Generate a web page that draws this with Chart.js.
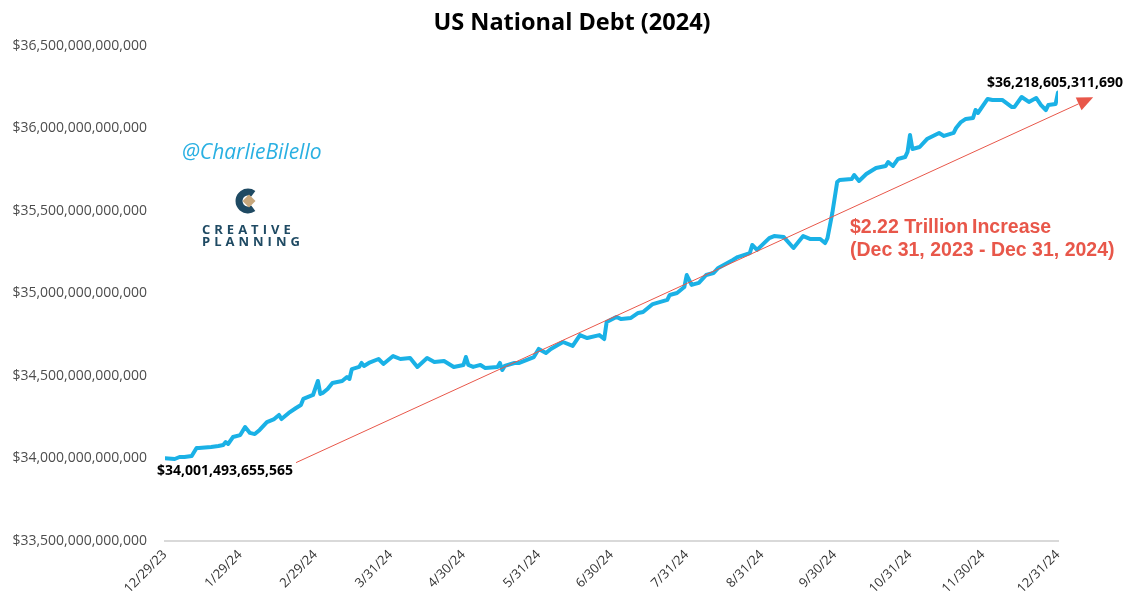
<!DOCTYPE html>
<html>
<head>
<meta charset="utf-8">
<script src="https://cdn.jsdelivr.net/npm/chart.js@4.4.1/dist/chart.umd.min.js"></script>
<style>
  html, body { margin: 0; padding: 0; background: #ffffff; }
  #wrap { width: 1132px; height: 606px; position: relative; }
</style>
</head>
<body>
<div id="wrap"><canvas id="c"></canvas></div>
<script>
// ---- Data ----
// day offset from 12/29/2023
const days = [0,4,6,8,11,13,14,19,22,24,25,26,28,31,33,35,37,39,42,45,47,48,51,54,56,57,60,61,63,64,65,67,69,73,75,76,77,80,81,82,84,88,90,94,97,101,104,108,111,115,119,123,124,125,127,130,132,137,138,139,140,144,146,152,154,157,159,164,168,171,174,179,181,182,186,188,192,195,197,200,201,207,208,211,214,215,217,220,223,226,228,234,236,241,242,244,249,251,255,259,263,266,270,272,273,275,277,278,283,284,286,289,293,297,298,300,302,305,306,307,308,311,314,319,321,325,326,328,330,333,334,335,339,341,345,349,350,353,356,359,361,363,364,367,368];
// total public debt, trillions of USD
const debt = [34.001,33.997,34.009,34.009,34.015,34.064,34.064,34.070,34.076,34.082,34.100,34.088,34.130,34.142,34.191,34.155,34.148,34.173,34.221,34.239,34.264,34.239,34.276,34.306,34.324,34.361,34.379,34.385,34.470,34.391,34.397,34.421,34.458,34.470,34.494,34.482,34.542,34.555,34.579,34.561,34.579,34.603,34.573,34.621,34.603,34.609,34.555,34.609,34.585,34.591,34.555,34.567,34.615,34.567,34.555,34.567,34.548,34.555,34.579,34.536,34.561,34.579,34.579,34.615,34.664,34.639,34.664,34.706,34.682,34.748,34.730,34.748,34.724,34.827,34.858,34.845,34.852,34.882,34.888,34.924,34.936,34.961,34.991,35.003,35.039,35.112,35.052,35.064,35.112,35.124,35.155,35.203,35.221,35.245,35.294,35.264,35.336,35.348,35.342,35.276,35.348,35.330,35.330,35.306,35.336,35.488,35.676,35.688,35.694,35.718,35.682,35.724,35.761,35.773,35.797,35.773,35.815,35.827,35.858,35.961,35.876,35.888,35.936,35.973,35.955,35.973,36.003,36.039,36.058,36.064,36.112,36.094,36.179,36.173,36.173,36.130,36.130,36.191,36.161,36.185,36.142,36.112,36.142,36.148,36.2186];

const tickLabels = ['12/29/23','1/29/24','2/29/24','3/31/24','4/30/24','5/31/24','6/30/24','7/31/24','8/31/24','9/30/24','10/31/24','11/30/24','12/31/24'];
const yTicks = [33.5, 34.0, 34.5, 35.0, 35.5, 36.0, 36.5];

const startLabel = '$34,001,493,655,565';
const endLabel = '$36,218,605,311,690';
const increaseLines = ['$2.22 Trillion\u2009Increase', '(Dec 31, 2023 - Dec 31, 2024)'];
const arrowFrom = { day: 54, value: 33.975 };
const arrowTo = { day: 382.5, value: 36.19 };

// day offsets of the tick labels, from the label dates
function labelToDay(s) {
  const [m, d, y] = s.split('/').map(Number);
  const t = Date.UTC(2000 + y, m - 1, d);
  return Math.round((t - Date.UTC(2023, 11, 29)) / 86400000);
}
const tickDays = tickLabels.map(labelToDay);

const points = days.map((d, i) => ({ x: d, y: debt[i] }));

const overlay = {
  id: 'overlay',
  afterDatasetsDraw(chart) {
    const ctx = chart.ctx;
    const xs = chart.scales.x, ys = chart.scales.y;
    ctx.save();
    // Title
    ctx.fillStyle = '#000000';
    ctx.font = 'bold 23.5px "Open Sans"';
    ctx.textAlign = 'center';
    ctx.textBaseline = 'middle';
    ctx.fillText('US National Debt (2024)', 572, 23);

    // Arrow
    const x1 = xs.getPixelForValue(arrowFrom.day), y1 = ys.getPixelForValue(arrowFrom.value);
    const x2 = xs.getPixelForValue(arrowTo.day), y2 = ys.getPixelForValue(arrowTo.value);
    ctx.strokeStyle = '#e8574a';
    ctx.lineWidth = 1;
    const ang = Math.atan2(y2 - y1, x2 - x1);
    const hl = 16, hw = 7;
    const bx = x2 - hl * Math.cos(ang), by = y2 - hl * Math.sin(ang);
    ctx.beginPath(); ctx.moveTo(x1, y1); ctx.lineTo(bx, by); ctx.stroke();
    ctx.fillStyle = '#e8574a';
    ctx.beginPath();
    ctx.moveTo(x2, y2);
    ctx.lineTo(bx + hw * Math.sin(ang), by - hw * Math.cos(ang));
    ctx.lineTo(bx - hw * Math.sin(ang), by + hw * Math.cos(ang));
    ctx.closePath(); ctx.fill();

    // value labels
    ctx.fillStyle = '#000000';
    ctx.font = 'bold 14px "Open Sans"';
    ctx.textAlign = 'left';
    ctx.textBaseline = 'middle';
    ctx.fillText(startLabel, 157, 471);
    ctx.fillText(endLabel, 987, 83);

    // increase text
    ctx.fillStyle = '#e8574a';
    ctx.font = 'bold 19.5px "Liberation Sans"';
    ctx.fillText(increaseLines[0], 850, 228);
    ctx.fillText(increaseLines[1], 850, 251);

    // handle
    ctx.fillStyle = '#2ab0e2';
    ctx.font = 'italic 21px "Open Sans"';
    ctx.fillText('@CharlieBilello', 182, 153);

    // logo
    ctx.strokeStyle = '#1f4a63';
    ctx.lineWidth = 7;
    ctx.beginPath();
    ctx.arc(248, 201, 9, 0.3 * Math.PI, 1.7 * Math.PI);
    ctx.stroke();
    ctx.fillStyle = '#c7a77c';
    ctx.beginPath();
    ctx.moveTo(249, 194.5); ctx.lineTo(255.5, 201); ctx.lineTo(249, 207.5); ctx.lineTo(242.5, 201);
    ctx.closePath(); ctx.fill();
    ctx.fillStyle = '#1f4a63';
    ctx.font = 'bold 13px "Open Sans"';
    ctx.letterSpacing = '4px';
    ctx.fillText('CREATIVE', 202, 230);
    ctx.fillText('PLANNING', 202, 242);
    ctx.letterSpacing = '0px';
    ctx.restore();
  }
};

new Chart(document.getElementById('c'), {
  type: 'line',
  data: {
    datasets: [{
      data: points,
      borderColor: '#1ab1e6',
      borderWidth: 4,
      pointRadius: 0,
      tension: 0,
      fill: false,
      borderJoinStyle: 'round',
      borderCapStyle: 'round'
    }]
  },
  options: {
    responsive: true,
    maintainAspectRatio: false,
    animation: false,
    layout: { padding: { top: 46, right: 74, bottom: 0, left: 0 } },
    plugins: { legend: { display: false }, tooltip: { enabled: false }, title: { display: false } },
    scales: {
      x: {
        type: 'linear',
        min: 0,
        max: 368,
        afterBuildTicks(axis) { axis.ticks = tickDays.map(v => ({ value: v })); },
        afterFit(axis) { axis.height = 65; },
        grid: { display: false, drawTicks: false },
        border: { display: true, color: '#d9d9d9', width: 2 },
        ticks: {
          autoSkip: false,
          minRotation: 45,
          maxRotation: 45,
          padding: 6,
          color: '#333333',
          font: { family: 'Open Sans', size: 13 },
          callback(v, i) { return tickLabels[i]; }
        }
      },
      y: {
        min: 33.5,
        max: 36.5,
        afterBuildTicks(axis) { axis.ticks = yTicks.map(v => ({ value: v })); },
        afterFit(axis) { axis.width = 165; },
        grid: { display: false, drawTicks: false },
        border: { display: false },
        ticks: {
          padding: 18,
          color: '#4d4d4d',
          font: { family: 'Open Sans', size: 14 },
          callback(v) { return '$' + Math.round(v * 1e12).toLocaleString('en-US'); }
        }
      }
    }
  },
  plugins: [overlay]
});
</script>
</body>
</html>
